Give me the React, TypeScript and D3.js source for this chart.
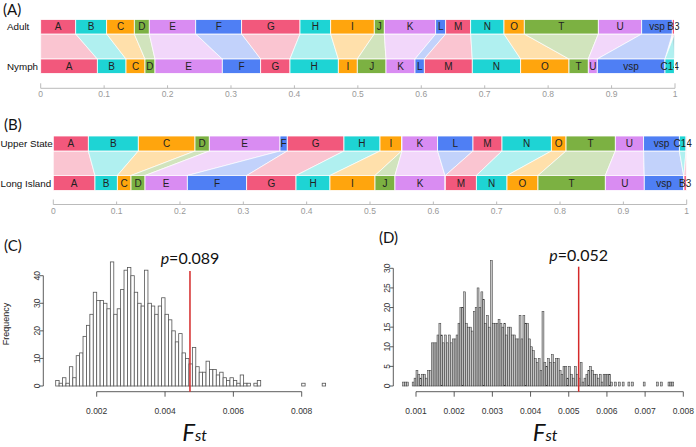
import React from 'react';
import * as d3 from 'd3';

// category order sets the colour cycle
const categories = ['A', 'B', 'C', 'D', 'E', 'F', 'G', 'H', 'I', 'J', 'K', 'L', 'M', 'N', 'O', 'T', 'U', 'vsp', 'B3', 'C14'];
const palette = ['#f2587c', '#1ed4d4', '#ffa50d', '#7cb142', '#d98cf2', '#4f7ff4'];

// panel A
const adultNames = ['A', 'B', 'C', 'D', 'E', 'F', 'G', 'H', 'I', 'J', 'K', 'L', 'M', 'N', 'O', 'T', 'U', 'vsp', 'B3', 'C14'];
const adultShares = [0.0552, 0.0488, 0.0436, 0.0236, 0.0732, 0.0724, 0.0920, 0.0484, 0.0687, 0.0158, 0.0810, 0.0158, 0.0394, 0.0525, 0.0320, 0.1167, 0.0684, 0.0482, 0.0035, 0.0005];
const nymphNames = ['A', 'B', 'C', 'D', 'E', 'F', 'G', 'H', 'I', 'J', 'K', 'L', 'M', 'N', 'O', 'T', 'U', 'vsp', 'C14', 'B3'];
const nymphShares = [0.0893, 0.0452, 0.0299, 0.0158, 0.1061, 0.0605, 0.0462, 0.0762, 0.0299, 0.0453, 0.0457, 0.0147, 0.0756, 0.0763, 0.0762, 0.0304, 0.0142, 0.1067, 0.0148, 0.0005];

// panel B
const upperNames = ['A', 'B', 'C', 'D', 'E', 'F', 'G', 'H', 'I', 'J', 'K', 'L', 'M', 'N', 'O', 'T', 'U', 'vsp', 'C14', 'B3'];
const upperShares = [0.0553, 0.0789, 0.0895, 0.0226, 0.1116, 0.0115, 0.0895, 0.0569, 0.0342, 0.0005, 0.0563, 0.0558, 0.0458, 0.0779, 0.0232, 0.0778, 0.0447, 0.0564, 0.0105, 0.0005];
const longNames = ['A', 'B', 'C', 'D', 'E', 'F', 'G', 'H', 'I', 'J', 'K', 'L', 'M', 'N', 'O', 'T', 'U', 'vsp', 'C14', 'B3'];
const longShares = [0.0658, 0.0353, 0.0216, 0.0221, 0.0668, 0.0937, 0.0779, 0.0536, 0.0711, 0.0315, 0.0790, 0.0005, 0.0490, 0.0484, 0.0489, 0.1063, 0.0615, 0.0622, 0.0005, 0.0037];

const shareTicks = [0, 0.1, 0.2, 0.3, 0.4, 0.5, 0.6, 0.7, 0.8, 0.9, 1];

// panel C histogram (bins of 0.0001 from 0.0008)
const cBinStart = 0.0008;
const cBinWidth = 0.0001;
const cCounts = [
  2, 1, 3, 1, 7, 3, 11, 12, 18, 22,
  26, 34, 31, 31, 30, 28, 45, 26, 28, 35,
  42, 43, 40, 34, 30, 29, 42, 30, 29, 26,
  29, 32, 26, 24, 20, 16, 19, 12, 10, 8,
  14, 7, 5, 5, 9, 6, 6, 4, 5, 3,
  2, 3, 2, 1, 4, 1, 1, 0, 1, 2,
  0, 0, 0, 0, 0, 0, 0, 0, 0, 0,
  0, 0, 1, 0, 0, 0, 0, 0, 1,
];
const cXTicks = [0.002, 0.004, 0.006, 0.008];
const cYTicks = [0, 10, 20, 30, 40];
const cObserved = 0.00473;
const cPLabel = '0.089';

// panel D histogram (bins of 0.00005 from 0.00065)
const dBinStart = 0.00065;
const dBinWidth = 0.00005;
const dCounts = [
  1, 1, 1, 0, 0,
  1, 2, 4, 3, 2, 3, 3, 2, 4, 4,
  11, 11, 11, 13, 16, 13, 11, 13, 11, 13,
  11, 12, 12, 13, 16, 20, 20, 24, 16, 15,
  15, 14, 19, 20, 25, 20, 24, 22, 16, 18,
  15, 32, 16, 16, 16, 17, 16, 15, 16, 13,
  15, 15, 13, 13, 12, 12, 18, 12, 18, 16,
  16, 12, 10, 9, 7, 6, 7, 4, 19, 6,
  5, 7, 6, 8, 6, 7, 7, 4, 3, 5,
  5, 2, 5, 3, 2, 5, 3, 2, 6, 1,
  2, 3, 4, 5, 4, 3, 3, 2, 3, 1,
  3, 3, 3, 3, 1, 0, 1, 0, 1, 0,
  1, 0, 0, 1, 0, 1, 0, 0, 0, 0,
  0, 1, 0, 0, 0, 0, 0, 0, 1, 0,
  1, 0, 0, 0, 1, 1, 1,
];
const dXTicks = [0.001, 0.002, 0.003, 0.004, 0.005, 0.006, 0.007, 0.008];
const dYTicks = [0, 5, 10, 15, 20, 25, 30];
const dObserved = 0.00526;
const dPLabel = '0.052';

const SANS = '"Liberation Sans", Arial, sans-serif';
const TITLE = 'Lato, "Open Sans", sans-serif';

const colorOf = (name: string) => palette[categories.indexOf(name) % palette.length];

function spans(names: string[], shares: number[]) {
  const m = new Map<string, [number, number]>();
  let acc = 0;
  names.forEach((n, i) => {
    m.set(n, [acc, acc + shares[i]]);
    acc += shares[i];
  });
  return m;
}

interface AlluvialProps {
  topNames: string[]; topShares: number[];
  botNames: string[]; botShares: number[];
  topLabel: string; botLabel: string; labelX: number;
  x0: number; x1: number; topY: number; botY: number; barH: number; axisY: number;
}

const Alluvial: React.FC<AlluvialProps> = ({ topNames, topShares, botNames, botShares, topLabel, botLabel, labelX, x0, x1, topY, botY, barH, axisY }) => {
  const x = d3.scaleLinear().domain([0, 1]).range([x0, x1]);
  const top = spans(topNames, topShares);
  const bot = spans(botNames, botShares);

  const ribbons = topNames.filter(n => bot.has(n)).map(n => {
    const [a0, a1] = top.get(n)!;
    const [b0, b1] = bot.get(n)!;
    const d = `M${x(a0)},${topY + barH}L${x(a1)},${topY + barH}L${x(b1)},${botY}L${x(b0)},${botY}Z`;
    return <path key={n} d={d} fill={colorOf(n)} fillOpacity={0.35} stroke="#fff" strokeWidth={0.7} />;
  });

  const row = (names: string[], m: Map<string, [number, number]>, y: number) =>
    names.map(n => {
      const [s0, s1] = m.get(n)!;
      return (
        <g key={n}>
          <rect x={x(s0)} y={y} width={Math.max(0, x(s1) - x(s0))} height={barH} fill={colorOf(n)} stroke="#fff" strokeWidth={0.8} />
          {s1 - s0 >= 0.002 && (
            <text x={(x(s0) + x(s1)) / 2} y={y + barH / 2 + 3.6} textAnchor="middle" fontSize={10} fill="#222" fontFamily={SANS}>{n}</text>
          )}
        </g>
      );
    });

  return (
    <g>
      {ribbons}
      {row(topNames, top, topY)}
      {row(botNames, bot, botY)}
      <text x={labelX} y={topY + barH / 2 + 3.6} fontSize={9.8} fill="#111" fontFamily={SANS}>{topLabel}</text>
      <text x={labelX} y={botY + barH / 2 + 3.6} fontSize={9.8} fill="#111" fontFamily={SANS}>{botLabel}</text>
      <line x1={x(0)} x2={x(1)} y1={axisY} y2={axisY} stroke="#bbb" strokeWidth={1} />
      {shareTicks.map(t => (
        <g key={t}>
          <line x1={x(t)} x2={x(t)} y1={axisY - (t === 0 || t === 1 ? 5 : 3)} y2={axisY} stroke="#bbb" strokeWidth={1} />
          <text x={x(t)} y={axisY + 9} textAnchor="middle" fontSize={8.5} fill="#999" fontFamily={SANS}>{+t.toFixed(1)}</text>
        </g>
      ))}
    </g>
  );
};

interface HistProps {
  counts: number[]; binStart: number; binWidth: number;
  xDomain: [number, number]; xRange: [number, number];
  yMax: number; yTop: number; baseY: number; axisX: number; axisY: number;
  xTicks: number[]; yTicks: number[];
  fill: string; stroke: string; strokeWidth: number;
  observed: number; lineTop: number; pLabel: string; pY: number; pSize: number;
}

const Hist: React.FC<HistProps> = p => {
  const x = d3.scaleLinear().domain(p.xDomain).range(p.xRange);
  const y = d3.scaleLinear().domain([0, p.yMax]).range([p.baseY, p.yTop]);
  const fmt = d3.format('.3f');
  const mid = (x(p.xTicks[0]) + x(p.xTicks[p.xTicks.length - 1])) / 2;
  return (
    <g fontFamily={SANS}>
      {p.counts.map((c, i) => {
        const a = x(p.binStart + i * p.binWidth);
        const b = x(p.binStart + (i + 1) * p.binWidth);
        return <rect key={i} x={a} y={y(c)} width={b - a} height={p.baseY - y(c)} fill={p.fill} stroke={p.stroke} strokeWidth={p.strokeWidth} />;
      })}
      {/* y axis */}
      <line x1={p.axisX} x2={p.axisX} y1={y(p.yTicks[0])} y2={y(p.yTicks[p.yTicks.length - 1])} stroke="#333" strokeWidth={0.8} />
      {p.yTicks.map(t => (
        <g key={t}>
          <line x1={p.axisX - 4} x2={p.axisX} y1={y(t)} y2={y(t)} stroke="#333" strokeWidth={0.8} />
          <text transform={`translate(${p.axisX - 3.5},${y(t)}) rotate(-90)`} textAnchor="middle" fontSize={8.5} fill="#333">{t}</text>
        </g>
      ))}
      {/* x axis */}
      <line x1={x(p.xTicks[0])} x2={x(p.xTicks[p.xTicks.length - 1])} y1={p.axisY} y2={p.axisY} stroke="#333" strokeWidth={0.8} />
      {p.xTicks.map(t => (
        <g key={t}>
          <line x1={x(t)} x2={x(t)} y1={p.axisY} y2={p.axisY + 5} stroke="#333" strokeWidth={0.8} />
          <text x={x(t)} y={p.axisY + 22} textAnchor="middle" fontSize={8.5} fill="#333">{fmt(t)}</text>
        </g>
      ))}
      <line x1={x(p.observed)} x2={x(p.observed)} y1={p.lineTop} y2={p.axisY} stroke="#d52a2a" strokeWidth={1.5} />
      <text x={x(p.observed)} y={p.pY} textAnchor="middle" fontSize={p.pSize} fill="#111" fontFamily={TITLE}>
        <tspan fontStyle="italic">p</tspan>={p.pLabel}
      </text>
      <text x={mid - 17} y={441} fontFamily={TITLE} fontStyle="italic" fill="#111" fontSize={24}>
        F<tspan fontSize={16}>st</tspan>
      </text>
    </g>
  );
};

export default function App() {
  return (
    <svg width={696} height={447} style={{ position: 'absolute', left: 0, top: 0, background: '#fff' }}>
      <rect width={696} height={447} fill="#fff" />
      <text x={3} y={15} fontSize={15} fontFamily={TITLE} fill="#111">(A)</text>
      <Alluvial
        topNames={adultNames} topShares={adultShares}
        botNames={nymphNames} botShares={nymphShares}
        topLabel="Adult" botLabel="Nymph" labelX={7}
        x0={40.7} x1={675} topY={19.5} botY={59} barH={14.5} axisY={88.3}
      />
      <text x={4} y={130} fontSize={15} fontFamily={TITLE} fill="#111">(B)</text>
      <Alluvial
        topNames={upperNames} topShares={upperShares}
        botNames={longNames} botShares={longShares}
        topLabel="Upper State" botLabel="Long Island" labelX={0.5}
        x0={53.3} x1={686.7} topY={136} botY={175.5} barH={15} axisY={204.5}
      />
      <text x={4} y={251} fontSize={15} fontFamily={TITLE} fill="#111">(C)</text>
      <text transform="translate(9.3,324) rotate(-90)" textAnchor="middle" fontSize={9} fontFamily={SANS} fill="#222">Frequency</text>
      <Hist
        counts={cCounts} binStart={cBinStart} binWidth={cBinWidth}
        xDomain={[0.002, 0.008]} xRange={[96.7, 301.7]}
        yMax={40} yTop={275.7} baseY={386} axisX={43.3} axisY={391.7}
        xTicks={cXTicks} yTicks={cYTicks}
        fill="#fff" stroke="#555" strokeWidth={0.8}
        observed={cObserved} lineTop={271} pLabel={cPLabel} pY={264} pSize={16}
      />
      <text x={379} y={243} fontSize={15} fontFamily={TITLE} fill="#111">(D)</text>
      <Hist
        counts={dCounts} binStart={dBinStart} binWidth={dBinWidth}
        xDomain={[0.001, 0.008]} xRange={[416, 683.3]}
        yMax={30} yTop={268.3} baseY={386} axisX={393.3} axisY={391.7}
        xTicks={dXTicks} yTicks={dYTicks}
        fill="#c4c4c4" stroke="#333" strokeWidth={0.5}
        observed={dObserved} lineTop={266.7} pLabel={dPLabel} pY={261} pSize={16}
      />
    </svg>
  );
}
